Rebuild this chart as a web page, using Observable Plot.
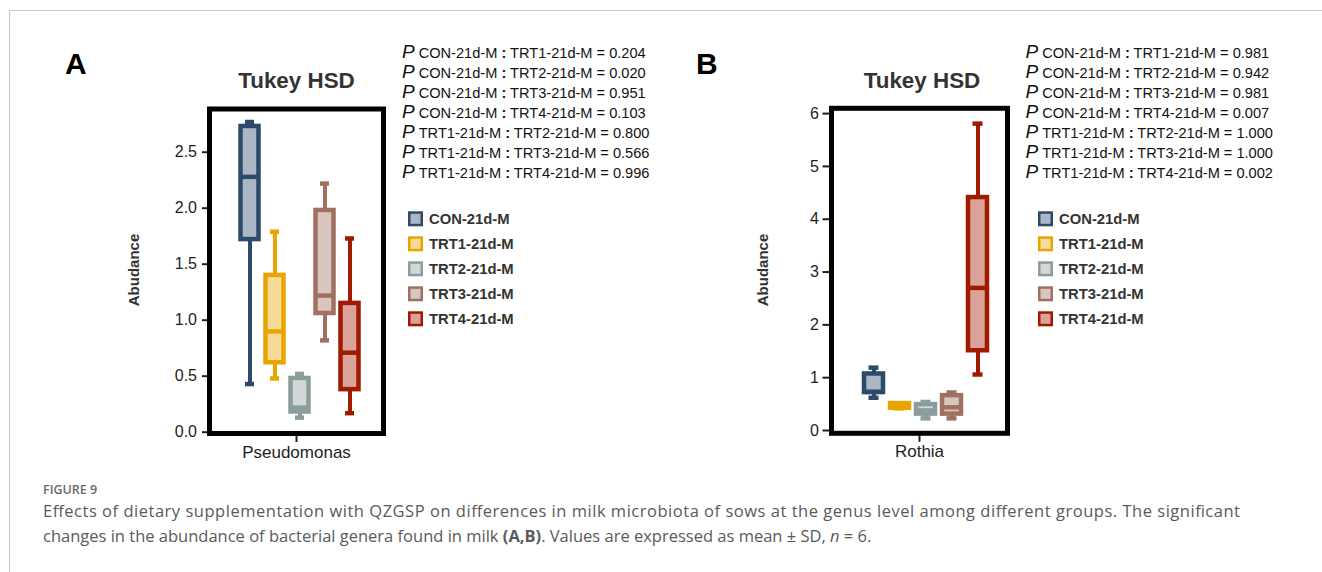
<!DOCTYPE html>
<html><head><meta charset="utf-8">
<script src="https://cdn.jsdelivr.net/npm/d3@7"></script>
<script src="https://cdn.jsdelivr.net/npm/@observablehq/plot@0.6"></script>
<style>
html,body{margin:0;padding:0;background:#fff;}
#page{position:relative;width:1322px;height:572px;overflow:hidden;font-family:"Liberation Sans",Arial,Helvetica,sans-serif;}
.pageBorder{position:absolute;left:9px;top:10px;width:1400px;height:700px;border-top:1.5px solid #c6c6c6;border-left:1.5px solid #c6c6c6;}
.panel{position:absolute;}
#overlay{position:absolute;left:0;top:0;}
</style></head>
<body><div id="page"><div class="pageBorder"></div></div>
<script>
// ---------- data ----------
const groups = ["CON-21d-M", "TRT1-21d-M", "TRT2-21d-M", "TRT3-21d-M", "TRT4-21d-M"];
const strokeColors = ["#2e4a6b", "#e9a400", "#8b9d9b", "#a07060", "#a01a00"];

const genusA = "Pseudomonas";
const minA    = [0.43, 0.48, 0.13, 0.82, 0.17];
const q1A     = [1.72, 0.62, 0.18, 1.06, 0.38];
const medianA = [2.28, 0.90, 0.22, 1.22, 0.71];
const q3A     = [2.73, 1.40, 0.48, 1.98, 1.15];
const maxA    = [2.77, 1.79, 0.52, 2.22, 1.73];
const ticksA  = [0, 0.5, 1.0, 1.5, 2.0, 2.5];

const genusB = "Rothia";
const minB    = [0.62, 0.42, 0.23, 0.23, 1.06];
const q1B     = [0.72, 0.42, 0.31, 0.31, 1.51];
const medianB = [0.73, 0.46, 0.38, 0.44, 2.70];
const q3B     = [1.07, 0.51, 0.49, 0.66, 4.41];
const maxB    = [1.19, 0.51, 0.54, 0.72, 5.81];
const ticksB  = [0, 1, 2, 3, 4, 5, 6];

const pairs = [
  ["CON-21d-M", "TRT1-21d-M"], ["CON-21d-M", "TRT2-21d-M"], ["CON-21d-M", "TRT3-21d-M"],
  ["CON-21d-M", "TRT4-21d-M"], ["TRT1-21d-M", "TRT2-21d-M"], ["TRT1-21d-M", "TRT3-21d-M"],
  ["TRT1-21d-M", "TRT4-21d-M"]
];
const pValuesA = ["0.204", "0.020", "0.951", "0.103", "0.800", "0.566", "0.996"];
const pValuesB = ["0.981", "0.942", "0.981", "0.007", "1.000", "1.000", "0.002"];

const panelTitle = "Tukey HSD";
const yLabel = "Abudance";
const figLabel = "FIGURE 9";
const captionLines = [
  "Effects of dietary supplementation with QZGSP on differences in milk microbiota of sows at the genus level among different groups. The significant",
  "changes in the abundance of bacterial genera found in milk |(A,B)|. Values are expressed as mean ± SD, |n| = 6."
];

// ---------- panels ----------
const page = document.getElementById("page");
const FONT = '"Liberation Sans", Arial, Helvetica, sans-serif';

function boxPanel(cfg) {
  const rows = groups.map((g, i) => ({
    genus: cfg.genus, group: g,
    min: cfg.min[i], q1: cfg.q1[i], median: cfg.median[i], q3: cfg.q3[i], max: cfg.max[i]
  }));
  const chart = Plot.plot({
    width: cfg.width, height: cfg.height,
    marginTop: cfg.mt, marginRight: cfg.mr, marginBottom: cfg.mb, marginLeft: cfg.ml,
    style: {fontFamily: FONT, color: "#1e1e1e", background: "transparent", overflow: "visible"},
    facet: {data: rows, x: "genus"},
    fx: {domain: [cfg.genus], padding: 0, label: null},
    x: {domain: groups, paddingInner: 0.28, paddingOuter: 0, insetLeft: cfg.insetLeft, insetRight: cfg.insetRight, axis: null},
    y: {domain: cfg.yDomain, label: null},
    color: {domain: groups, range: strokeColors},
    marks: [
      Plot.ruleX(rows, {x: "group", y1: "min", y2: "q1", stroke: "group", strokeWidth: 4}),
      Plot.ruleX(rows, {x: "group", y1: "q3", y2: "max", stroke: "group", strokeWidth: 4}),
      Plot.barY(rows, {x: "group", y1: "q1", y2: "q3", fill: "group", fillOpacity: 0.4, stroke: "group", strokeWidth: 4.5}),
      Plot.tickY(rows, {x: "group", y: "median", stroke: "group", strokeWidth: 4.5}),
      Plot.tickY(rows, {x: "group", y: "max", stroke: "group", strokeWidth: 4.5, insetLeft: 4.5, insetRight: 4.5}),
      Plot.tickY(rows, {x: "group", y: "min", stroke: "group", strokeWidth: 4.5, insetLeft: 4.5, insetRight: 4.5}),
      Plot.axisY({ticks: cfg.yTicks, tickFormat: cfg.tickFormat, tickSize: cfg.tickSizeY, tickPadding: cfg.tickPadY, fontSize: 16, strokeWidth: 2, label: null}),
      Plot.axisFx({anchor: "bottom", tickSize: 9, tickPadding: 3, fontSize: 17, strokeWidth: 2, label: null}),
      Plot.frame({stroke: "#000", strokeWidth: 5})
    ]
  });
  const wrap = document.createElement("div");
  wrap.className = "panel";
  wrap.style.left = cfg.left + "px";
  wrap.style.top = cfg.top + "px";
  wrap.appendChild(chart);
  page.appendChild(wrap);
}

boxPanel({
  genus: genusA, min: minA, q1: q1A, median: medianA, q3: q3A, max: maxA,
  yDomain: [-0.0116, 2.886], yTicks: ticksA, tickFormat: d3.format(".1f"),
  left: 100, top: 100, width: 300, height: 370, ml: 108.5, mr: 17, mt: 8.5, mb: 37,
  insetLeft: 30.25, insetRight: 22.75, tickSizeY: 7, tickPadY: 5.5
});
boxPanel({
  genus: genusB, min: minB, q1: q1B, median: medianB, q3: q3B, max: maxB,
  yDomain: [-0.053, 6.10], yTicks: ticksB, tickFormat: d3.format("d"),
  left: 730, top: 100, width: 300, height: 370, ml: 101, mr: 22.2, mt: 7.8, mb: 37.2,
  insetLeft: 31.35, insetRight: 19.45, tickSizeY: 8.5, tickPadY: 4
});

// ---------- annotations ----------
const svg = d3.select(page).append("svg").attr("id", "overlay")
  .attr("width", 1322).attr("height", 572)
  .style("font-family", FONT).style("pointer-events", "none");

function annotate(o) {
  svg.append("text").attr("x", o.letterX).attr("y", 74).attr("font-size", 30).attr("font-weight", "bold")
    .attr("fill", "#000").text(o.letter);
  svg.append("text").attr("x", o.titleX).attr("y", 88.3).attr("text-anchor", "middle")
    .attr("font-size", 22.4).attr("font-weight", "bold").attr("fill", "#333").text(panelTitle);
  svg.append("text").attr("transform", `translate(${o.ylabX},270) rotate(-90)`).attr("text-anchor", "middle")
    .attr("font-size", 15).attr("font-weight", "bold").attr("fill", "#333").text(yLabel);
  pairs.forEach((p, i) => {
    const t = svg.append("text").attr("x", o.pX).attr("y", 58.3 + i * 20).attr("fill", "#111");
    t.append("tspan").attr("font-size", 19).attr("font-style", "italic").text("P");
    t.append("tspan").attr("dx", 4).attr("font-size", 14.6).text(p[0] + " ");
    t.append("tspan").attr("font-size", 14.6).attr("font-weight", "bold").text(":");
    t.append("tspan").attr("font-size", 14.6).text(" " + p[1] + " = " + o.pv[i]);
  });
  groups.forEach((g, i) => {
    const cy = 218.8 + i * 25;
    svg.append("rect").attr("x", o.legX + 1.25).attr("y", cy - 6.25).attr("width", 12.5).attr("height", 12.5)
      .attr("fill", strokeColors[i]).attr("fill-opacity", 0.4).attr("stroke", strokeColors[i]).attr("stroke-width", 2.5);
    svg.append("text").attr("x", o.legX + 21).attr("y", cy + 5.2).attr("font-size", 14.8)
      .attr("font-weight", "bold").attr("fill", "#333").text(g);
  });
}
annotate({letter: "A", letterX: 65, titleX: 296.5, ylabX: 138.5, pX: 402, pv: pValuesA, legX: 408});
annotate({letter: "B", letterX: 696, titleX: 922, ylabX: 767.5, pX: 1025.5, pv: pValuesB, legX: 1038});

// caption
const CAPFONT = "'Open Sans', 'Noto Sans', sans-serif";
svg.append("text").attr("x", 43).attr("y", 494).attr("font-family", CAPFONT)
  .attr("font-size", 12.5).attr("font-weight", 600).attr("fill", "#6a6a6a").text(figLabel);
captionLines.forEach((line, i) => {
  const t = svg.append("text").attr("x", 43).attr("y", 517 + i * 25)
    .attr("font-family", CAPFONT).attr("font-size", 16.5).attr("fill", "#5a5a5a");
  if (i === 0) t.attr("textLength", 1197);
  line.split("|").forEach((part, j) => {
    const s = t.append("tspan").text(part);
    if (j === 1) s.attr("font-weight", "bold");
    if (j === 3) s.attr("font-style", "italic");
  });
});
</script>
</body></html>
